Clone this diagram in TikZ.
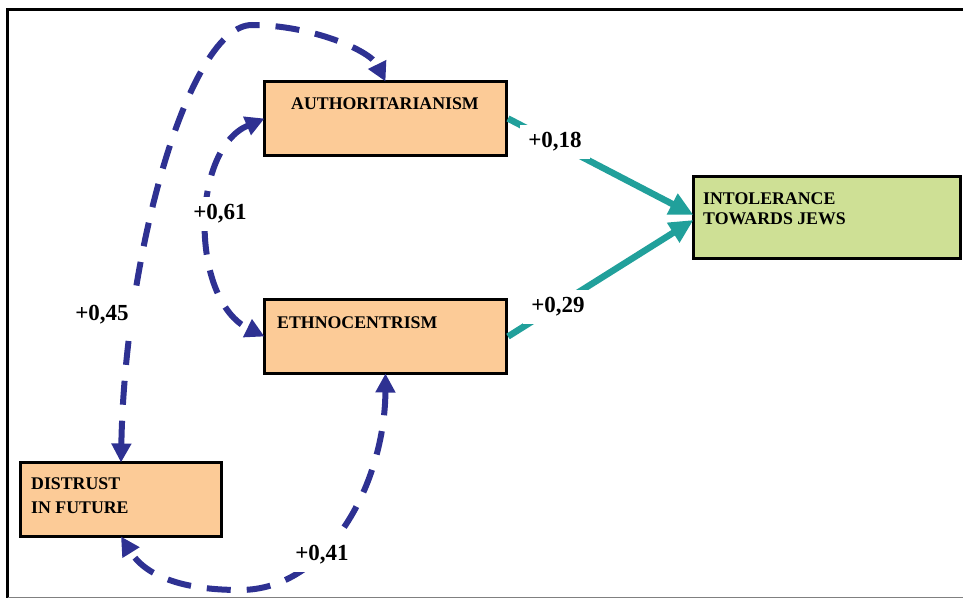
\documentclass[tikz,border=0pt]{standalone}
\usepackage{fontspec}
\setmainfont{Liberation Serif}
\usetikzlibrary{arrows.meta}
\definecolor{peach}{HTML}{FCCB97}
\definecolor{lime}{HTML}{CEE095}
\definecolor{tealc}{HTML}{21A09B}
\definecolor{navy}{HTML}{2E3192}
\tikzset{
 box/.style={draw=black, line width=3pt, inner sep=0pt, outer sep=0pt},
 boxtext/.style={font=\fontsize{17.8}{20}\selectfont\bfseries, inner sep=0pt, anchor=base west},
 coef/.style={font=\fontsize{23}{26}\selectfont\bfseries, fill=white, inner sep=8pt},
 effect/.style={draw=tealc, line width=6.5pt, -{Triangle[length=24pt,width=22pt]}},
 corr/.style={draw=navy, line width=6pt, dash pattern=on 24pt off 16pt, {Triangle[length=19pt,width=19pt]}-{Triangle[length=19pt,width=19pt]}},
}
\begin{document}
\begin{tikzpicture}[x=1pt,y=-1pt]
\useasboundingbox (0,0) rectangle (963,599);
\draw[line width=3pt] (963,10) -- (7.5,10) -- (7.5,597.5);
\draw[gray, line width=1.5pt] (7.5,597.5) -- (963,597.5);
% boxes
\node[box, fill=peach, minimum width=242pt, minimum height=74pt] (auth) at (385.5,118.5) {};
\node[box, fill=peach, minimum width=242pt, minimum height=74pt] (eth) at (385.5,336.5) {};
\node[box, fill=lime, minimum width=267pt, minimum height=82pt] (intol) at (827,217.5) {};
\node[box, fill=peach, minimum width=201pt, minimum height=74pt] (dist) at (121,499.5) {};
% box texts
\node[boxtext, anchor=base] (tA) at (385,110) {AUTHORITARIANISM};
\node[boxtext] (tE) at (277,328) {ETHNOCENTRISM};
\node[boxtext] (tI1) at (703,204) {INTOLERANCE};
\node[boxtext] (tI2) at (703,224) {TOWARDS JEWS};
\node[boxtext] (tD1) at (31,489) {DISTRUST};
\node[boxtext] (tD2) at (31,513) {IN FUTURE};
% effects
\draw[effect] ([xshift=1.5pt]auth.east) -- ([yshift=2.5pt]intol.west);
\draw[effect] ([xshift=1.5pt]eth.east) -- ([yshift=-2.5pt]intol.west);
% correlations
\draw[corr] (auth.west) .. controls (190,150) and (190,300) .. (eth.west);
\draw[corr] (dist.north) .. controls (125,250) and (190,25) .. (252,25) .. controls (310,25) and (370,50) .. (auth.north);
\draw[corr] (eth.south) .. controls (385,480) and (330,590) .. (240,590) .. controls (180,590) and (145,575) .. (dist.south);
% coefficients
\node[coef] (c18) at (555,142) {+0,18};
\node[coef] (c29) at (558,307) {+0,29};
\node[coef] (c61) at (220,214) {+0,61};
\node[coef] (c45) at (102,315) {+0,45};
\node[coef] (c41) at (322,555) {+0,41};
\end{tikzpicture}
\end{document}
